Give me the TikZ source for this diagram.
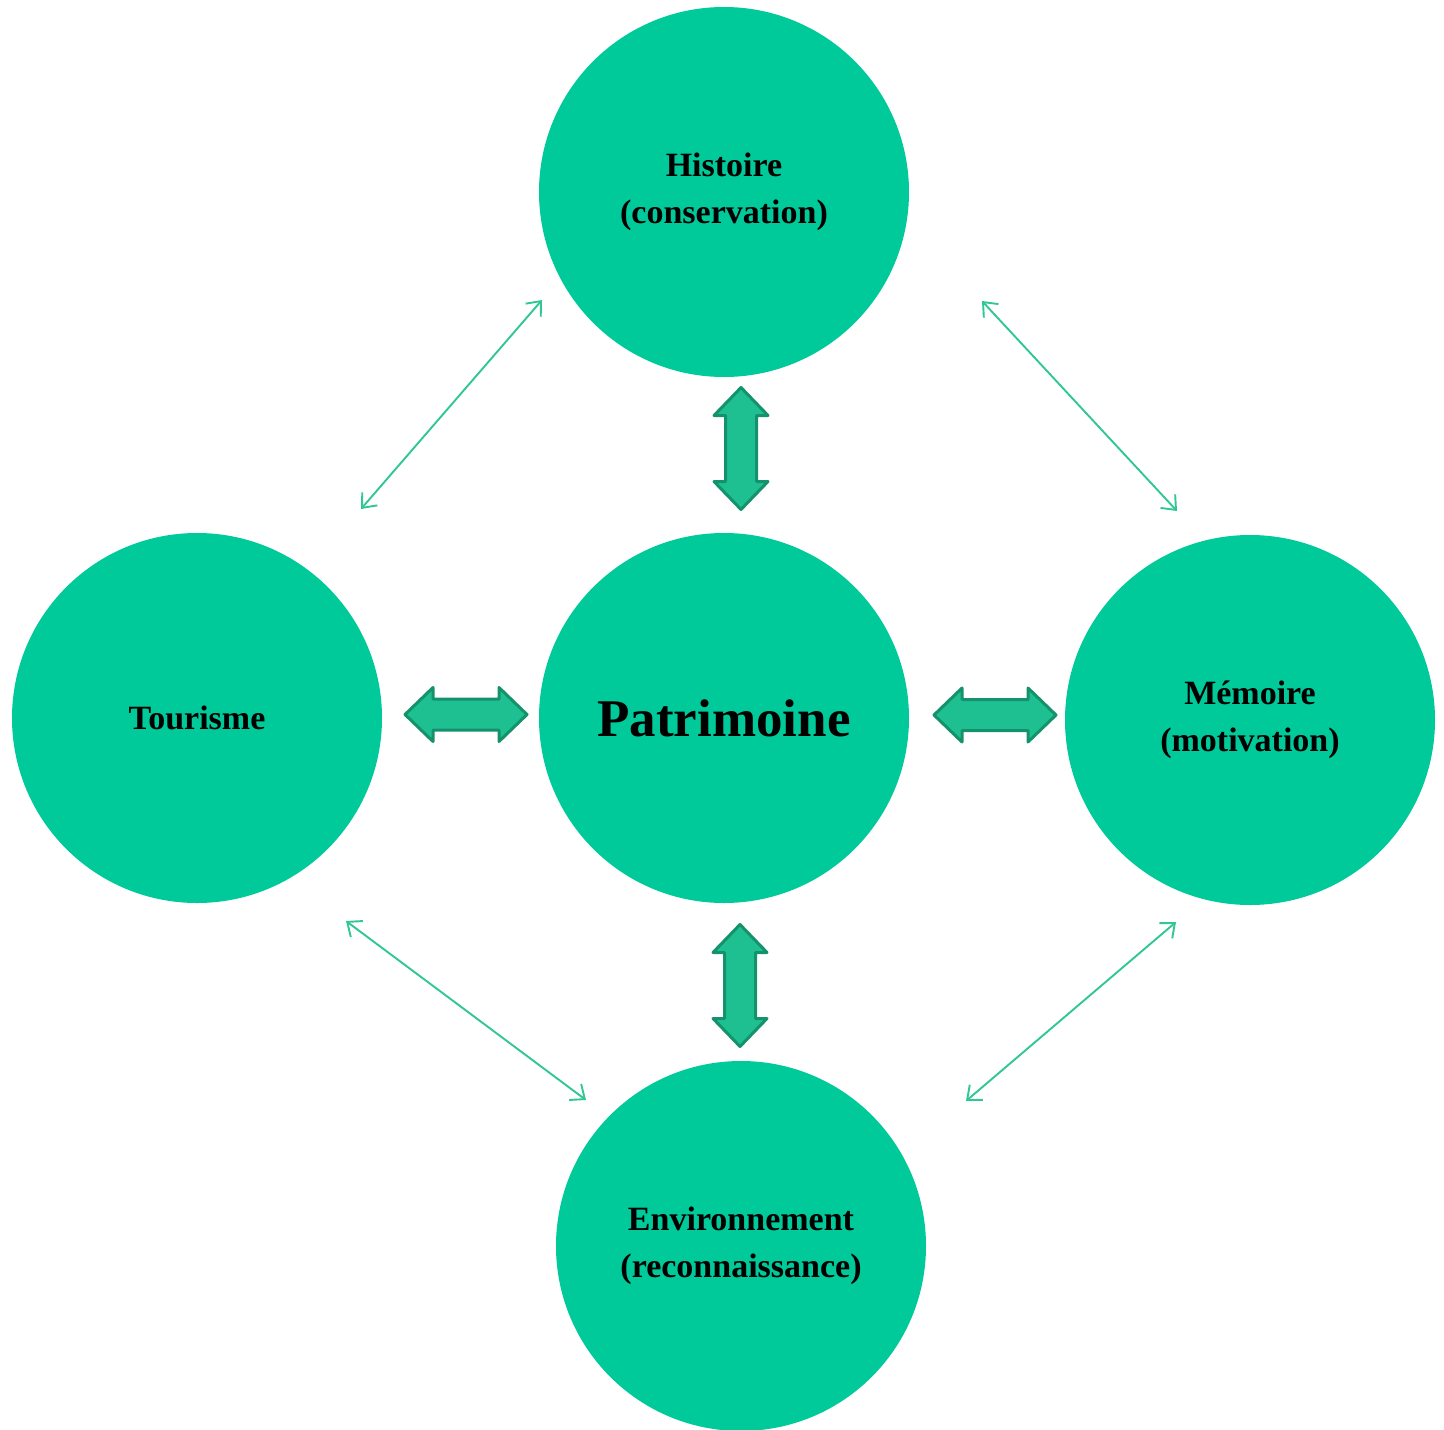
\documentclass[tikz,border=0pt]{standalone}
\usepackage{fontspec}
\setmainfont{Liberation Serif}
\usetikzlibrary{arrows.meta}
\definecolor{discgreen}{RGB}{0,201,154}
\definecolor{blockfill}{RGB}{30,192,146}
\definecolor{blockline}{RGB}{20,146,108}
\definecolor{thinline}{RGB}{48,198,150}
\tikzset{
  disc/.style={circle, fill=discgreen, minimum size=370pt, inner sep=0pt,
    align=center, text=black, font=\fontsize{34}{47}\selectfont\bfseries},
  blockarrow/.style={fill=blockfill, draw=blockline, line width=3pt, line join=round},
  thinarrow/.style={draw=thinline, line width=1.9pt,
    {Straight Barb[length=12pt,width=20pt,line width=1.9pt]}-{Straight Barb[length=12pt,width=20pt,line width=1.9pt]}},
  pics/dblarrow/.style={code={
    \path[blockarrow] (-61,0) -- (-33,27) -- (-33,15.5) -- (33,15.5) -- (33,27)
      -- (61,0) -- (33,-27) -- (33,-15.5) -- (-33,-15.5) -- (-33,-27) -- cycle;
  }}
}
\begin{document}
\begin{tikzpicture}[x=1pt, y=-1pt]
\useasboundingbox (0,0) rectangle (1444,1430);

% circles
\node[disc] (hist) at (724,192) {Histoire\\(conservation)};
\node[disc, font=\fontsize{53}{60}\selectfont\bfseries] (pat) at (724,718) {Patrimoine};
\node[disc] (tour) at (197,718) {Tourisme};
\node[disc] (mem) at (1250,720) {Mémoire\\(motivation)};
\node[disc] (env) at (741,1246) {Environnement\\(reconnaissance)};

% thick two-way arrows around the centre
\pic (arrN) at (741,448.5) [rotate=90] {dblarrow};
\pic (arrS) at (740,985.5) [rotate=90] {dblarrow};
\pic (arrW) at (466,714.5) {dblarrow};
\pic (arrE) at (995,715) {dblarrow};

% thin two-way arrows between the outer circles
\coordinate (nwA) at (542,300);
\coordinate (nwB) at (361,509);
\coordinate (neA) at (982,301);
\coordinate (neB) at (1177,511);
\coordinate (swA) at (346,921);
\coordinate (swB) at (586,1100);
\coordinate (seA) at (1176,922);
\coordinate (seB) at (966,1101);
\draw[thinarrow] (nwB) -- (nwA);
\draw[thinarrow] (neA) -- (neB);
\draw[thinarrow] (swA) -- (swB);
\draw[thinarrow] (seB) -- (seA);
\end{tikzpicture}
\end{document}
